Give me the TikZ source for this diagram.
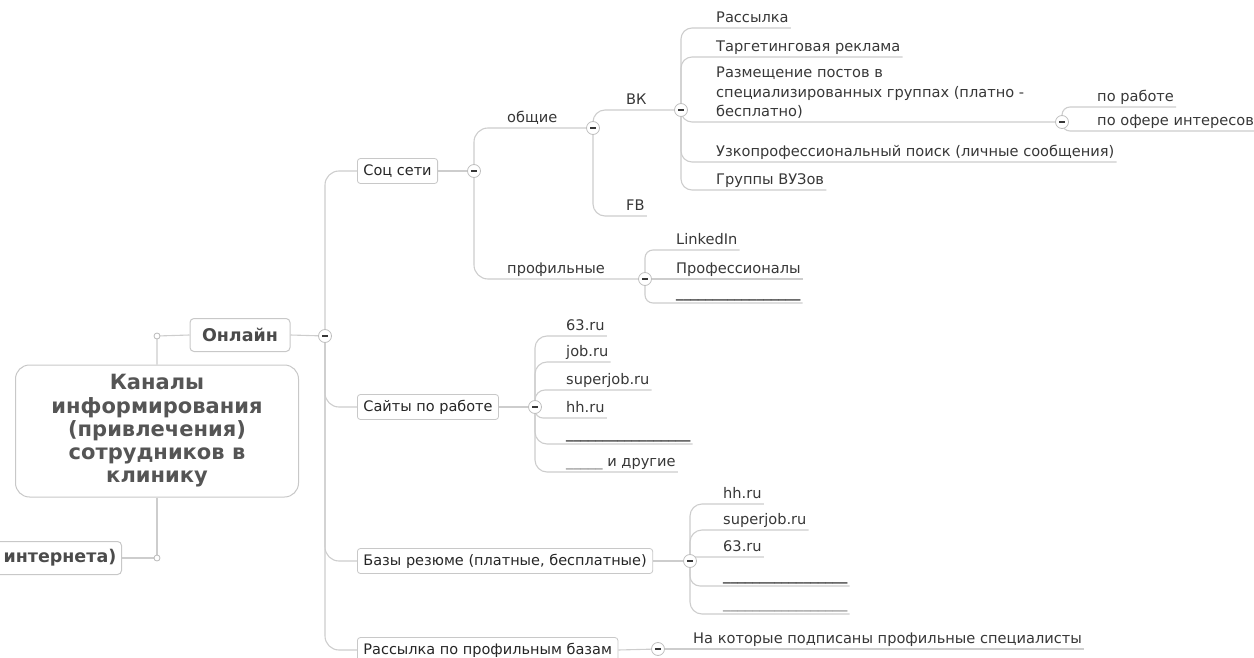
\documentclass[tikz,border=0pt]{standalone}
\usepackage{fontspec}
\setmainfont{DejaVu Sans}
\usetikzlibrary{positioning, backgrounds}
\definecolor{branchgray}{RGB}{205,205,205}
\definecolor{framegray}{RGB}{200,200,200}
\definecolor{inkgray}{RGB}{55,55,55}

\tikzset{
  branch/.style={draw=branchgray, line width=1.1pt, rounded corners=#1},
  branch/.default=11pt,
  central/.style={draw=framegray, fill=white, line width=1pt, rounded corners=14pt,
    minimum width=283pt, minimum height=132pt, align=center,
    font=\bfseries\fontsize{21}{23.3}\selectfont, text=inkgray!85},
  mainbox/.style={draw=framegray, fill=white, line width=1pt, rounded corners=4pt,
    minimum height=33pt, inner xsep=8pt, font=\bfseries\fontsize{17.5}{19}\selectfont,
    text=inkgray!90},
  topic/.style={draw=framegray, fill=white, line width=0.8pt, rounded corners=3pt,
    anchor=west, minimum height=25pt, inner xsep=6pt,
    font=\fontsize{14.5}{16}\selectfont, text=black!85},
  leafbase/.style={anchor=south west, inner xsep=2pt, inner ysep=3pt,
    font=\fontsize{14.6}{19.5}\selectfont, text=inkgray},
  leaf/.style={leafbase, text height=10.5pt, text depth=2pt},
  fold/.style={circle, draw=gray!50, fill=white, line width=0.8pt, minimum size=13pt,
    inner sep=0pt, path picture={\draw[inkgray, line width=1.3pt]
      ([xshift=-3pt]path picture bounding box.center) --
      ([xshift=3pt]path picture bounding box.center);}},
  knob/.style={circle, draw=gray!55, fill=white, line width=0.8pt, minimum size=6pt,
    inner sep=0pt},
}

\begin{document}
\begin{tikzpicture}[x=1pt, y=-1pt]
  \useasboundingbox (0,0) rectangle (1254,658);

  \node[central] (root) at (157,431)
    {Каналы\\информирования\\(привлечения)\\сотрудников в\\клинику};
  \node[mainbox, minimum width=100pt] (online) at (240,335) {Онлайн};
  \node[mainbox, anchor=east, text width=110pt, align=right] (offline)
    at (122,558) {интернета)};
  \node[knob] (kOn) at (157,336) {};
  \node[knob] (kOff) at (157,558) {};
  \node[fold] (fOnline) at (325,336) {};

  \node[topic] (soc) at (357,171) {Соц сети};
  \node[topic] (sites) at (357,407) {Сайты по работе};
  \node[topic] (bases) at (357,561) {Базы резюме (платные, бесплатные)};
  \node[topic] (mail) at (357,650) {Рассылка по профильным базам};
  \node[fold] (fSoc) at (474,171) {};
  \node[fold] (fSites) at (535,407) {};
  \node[fold] (fBases) at (690,561) {};
  \node[fold] (fMail) at (658,649) {};

  % Соц сети
  \node[leaf] (common) at (505,128) {общие};
  \node[fold] (fCommon) at (593,128) {};
  \node[leaf] (prof) at (505,279) {профильные};
  \node[fold] (fProf) at (645,279) {};
  \node[leaf] (vk) at (624,110) {ВК};
  \node[fold] (fVk) at (681,110) {};
  \node[leaf] (fb) at (624,216) {FB};
  \node[leafbase, align=left] (placing) at (714,122)
    {Размещение постов в\\специализированных группах (платно -\\бесплатно)};
  \node[fold] (fPlacing) at (1062,122) {};

  \begin{scope}[on background layer]
    \draw[branch=0pt] (root.north) -- (kOn.center) -- (online.west);
    \draw[branch=0pt] (root.south) -- (kOff.center) -- (offline.east);
    \draw[branch=0pt] (online.east) -- (fOnline.center);
    \foreach \t in {soc, sites, bases, mail}
      \draw[branch=14pt] (fOnline.center) |- (\t.west);
    \draw[branch=0pt] (soc.east) -- (fSoc.center);
    \draw[branch=0pt] (sites.east) -- (fSites.center);
    \draw[branch=0pt] (bases.east) -- (fBases.center);
    \draw[branch=0pt] (mail.east) -- (fMail.center);

    \draw[branch=14pt] (fSoc.center) |- (fCommon.center);
    \draw[branch=14pt] (fSoc.center) |- (fProf.center);
    \draw[branch=12pt] (fCommon.center) |- (fVk.center);
    \draw[branch=12pt] (fCommon.center) |- (fb.south east);
    \draw[branch] (fVk.center) |- (fPlacing.center);
  \end{scope}

  \foreach \y/\t [count=\i] in {28/Рассылка, 57/Таргетинговая реклама,
      162/Узкопрофессиональный поиск (личные сообщения), 190/Группы ВУЗов} {
    \node[leaf] (vk\i) at (714,\y) {\t};
    \begin{scope}[on background layer]
      \draw[branch] (fVk.center) |- (vk\i.south east);
    \end{scope}
  }
  \foreach \y/\t [count=\i] in {107/по работе, 131/по офере интересов} {
    \node[leaf] (pl\i) at (1095,\y) {\t};
    \begin{scope}[on background layer]
      \draw[branch=8pt] (fPlacing.center) |- (pl\i.south east);
    \end{scope}
  }

  \node[leaf] (prof1) at (674,250) {LinkedIn};
  \node[leaf] (prof2) at (674,279) {Профессионалы};
  \node[leaf, text=black] (prof3) at (674,303)
    {\_\_\_\_\_\_\_\_\_\_\_\_\_\_\_\_\_};

  % Сайты по работе
  \foreach \y/\r/\t [count=\i] in {336/12pt/63.ru, 362/12pt/job.ru,
      390/10pt/superjob.ru, 418/8pt/hh.ru,
      444/12pt/{\color{black}\_\_\_\_\_\_\_\_\_\_\_\_\_\_\_\_\_},
      472/12pt/{\color{gray}\_\_\_\_\_} и другие} {
    \node[leaf] (site\i) at (564,\y) {\t};
    \begin{scope}[on background layer]
      \draw[branch=\r] (fSites.center) |- (site\i.south east);
    \end{scope}
  }

  % Базы резюме
  \foreach \y/\r/\t [count=\i] in {504/12pt/hh.ru, 530/12pt/superjob.ru,
      557/3pt/63.ru,
      586/10pt/{\color{black}\_\_\_\_\_\_\_\_\_\_\_\_\_\_\_\_\_},
      614/12pt/{\color{gray}\_\_\_\_\_\_\_\_\_\_\_\_\_\_\_\_\_}} {
    \node[leaf] (base\i) at (721,\y) {\t};
    \begin{scope}[on background layer]
      \draw[branch=\r] (fBases.center) |- (base\i.south east);
    \end{scope}
  }

  \node[leaf] (mail1) at (691,649) {На которые подписаны профильные специалисты};

  \begin{scope}[on background layer]
    \draw[branch=8pt] (fProf.center) |- (prof1.south east);
    \draw[branch=0pt] (fProf.center) -- (prof2.south east);
    \draw[branch=8pt] (fProf.center) |- (prof3.south east);
    \draw[branch=0pt] (fMail.center) -- (mail1.south east);
  \end{scope}
\end{tikzpicture}
\end{document}
